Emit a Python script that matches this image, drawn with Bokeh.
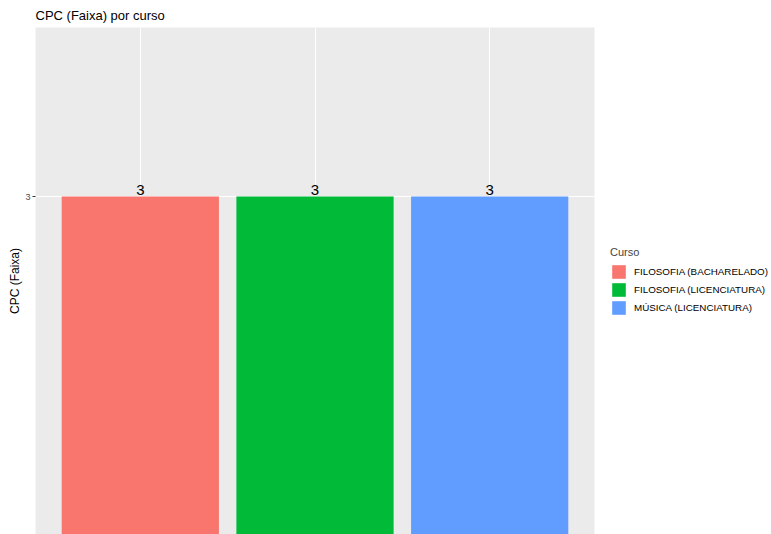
from bokeh.plotting import figure
from bokeh.models import (ColumnDataSource, FixedTicker, Legend, LegendItem, Range1d)
from bokeh.embed import file_html
from bokeh.resources import INLINE
from bokeh.core.properties import value

# ---- data ----
cursos = ["FILOSOFIA (BACHARELADO)", "FILOSOFIA (LICENCIATURA)", "MÚSICA (LICENCIATURA)"]
cpc_faixa = [3, 3, 3]
cores = ["#F8766D", "#00BA38", "#619CFF"]
y_ticks = [3]

FONT = "Liberation Sans"

xpos = list(range(1, len(cursos) + 1))

p = figure(frame_width=559, frame_height=507, output_backend="svg", toolbar_location=None,
           x_range=Range1d(0.4, len(cursos) + 0.6), y_range=Range1d(1, 4),
           min_border_left=35, min_border_right=0, min_border_top=27, min_border_bottom=0)

p.title.text = "CPC (Faixa) por curso"
p.title.text_font = FONT
p.title.text_font_size = "13px"
p.title.text_font_style = "normal"
p.title.text_color = "black"
p.title.align = "left"
p.title.standoff = 9

p.background_fill_color = "#EBEBEB"
p.border_fill_color = "white"
p.outline_line_color = None

items = []
for i, (c, v, col) in enumerate(zip(cursos, cpc_faixa, cores)):
    src = ColumnDataSource(dict(x=[xpos[i]], top=[v], lab=[str(v)]))
    r = p.vbar(x="x", top="top", bottom=0, width=0.9, source=src,
               fill_color=col, line_color=None)
    p.text(x="x", y="top", text="lab", source=src, text_align="center",
           text_baseline="bottom", text_font=value(FONT), text_font_size="15px",
           text_color="black", y_offset=-2)
    items.append(LegendItem(label=c, renderers=[r]))

# axes
p.xaxis.visible = False
p.xgrid.ticker = FixedTicker(ticks=xpos)
p.xgrid.grid_line_color = "white"
p.xgrid.grid_line_width = 1.1
p.ygrid.grid_line_color = "white"
p.ygrid.grid_line_width = 1.1

ya = p.yaxis[0]
ya.ticker = FixedTicker(ticks=y_ticks)
ya.axis_line_color = None
ya.major_tick_line_color = "#333333"
ya.major_tick_out = 3
ya.major_tick_in = 0
ya.minor_tick_line_color = None
ya.major_label_text_font = FONT
ya.major_label_text_font_size = "9px"
ya.major_label_text_color = "#4D4D4D"
ya.major_label_standoff = 2
ya.axis_label = "CPC (Faixa)"
ya.axis_label_text_font = FONT
ya.axis_label_text_font_size = "12px"
ya.axis_label_text_font_style = "normal"
ya.axis_label_text_color = "black"
ya.axis_label_standoff = 0

legend = Legend(items=items, title="Curso", location="center_left",
                title_text_font=FONT, title_text_font_size="11px", title_text_font_style="normal",
                label_text_font=FONT, label_text_font_size="9.8px", label_text_color="black",
                glyph_width=17, glyph_height=17, label_height=17, spacing=1,
                padding=0, margin=16, title_standoff=5, label_standoff=7,
                background_fill_alpha=0, border_line_color=None)
p.add_layout(legend, "right")

open("out.html", "w").write(file_html(p, INLINE))
